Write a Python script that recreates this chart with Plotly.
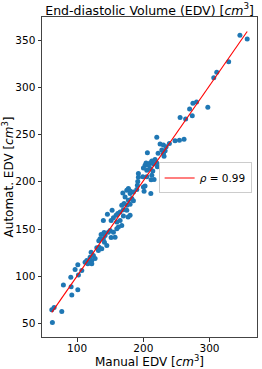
import plotly.graph_objects as go

manual_edv = [346, 357, 329, 311, 306.5, 297.5, 280.5, 275, 270, 274, 264, 255.6,
              220.4, 225.4, 230.4, 248, 254.6, 261.6, 239.4, 234.5, 228, 233, 230.4, 231.4,
              206.2, 217.8, 212.9, 210.3, 204.2, 202.7, 207.7, 215.3, 220.4, 221.3, 210.3, 205.3,
              214.4, 200.2, 192.6, 199.3, 205.3, 212.9, 216.3, 192.6, 211.8, 222.4,
              200.2, 190.2, 211.4, 177.5, 175.1, 180.1, 185.1, 180.1, 169.1, 172.5, 182.6, 177.5,
              171, 175.1, 167.5, 180.1, 170, 191.7, 191.1, 202.7, 201.2, 185.1,
              175.1, 180.1, 170, 165, 160, 167.5, 162.4, 160, 145.8, 139.7, 149.9, 154.9,
              147.3, 142.3, 157.4, 134.8, 139.7, 141.3, 144.9, 133.3, 137.3, 132.2,
              177.1, 165, 161.5, 152.9, 158.9, 154.9, 151.4, 140.8, 136.3, 151.4, 132.8, 129.8,
              121.2, 124.6, 119.7, 114.7, 122.2, 118.1, 112.1, 116.2, 122.2, 101.1, 127.2,
              97, 107.1, 102, 90.5, 79.3, 91, 101.1, 92, 61.8, 65.3, 76.9, 62.7]
auto_edv = [355, 351, 327, 316, 310, 279, 284.5, 283, 277, 270, 266.5, 268,
            247, 240, 239, 243.4, 244, 245, 240.6, 237, 233.5, 232.8, 230, 227,
            230.7, 223.6, 222, 220, 220, 217.6, 217.6, 218.7, 220, 215.8, 214, 212.3,
            211.5, 214.7, 208.8, 205.2, 205.2, 207, 202.4, 204.8, 202.2, 230.3,
            194.5, 191.8, 187.5, 192.8, 191, 190.3, 189.2, 187.5, 188.2, 183.9, 182.2, 180.4,
            176.9, 175.1, 175.1, 176.1, 170.5, 200.3, 196.3, 195.6, 190, 179.9,
            169.8, 164.5, 163.7, 159.1, 157.3, 153.8, 152, 150.3, 165.5, 159.1, 148.5, 146.7,
            146.7, 143.2, 141.4, 139.7, 139.7, 136.1, 132.6, 130.8, 129.1, 127.3,
            162.6, 168, 166.3, 169.8, 164.5, 162, 159.1, 146.4, 144.3, 141.1, 137.6, 130.1,
            125.5, 121.9, 120.1, 116.6, 116.6, 114.8, 114.8, 113.1, 113.1, 112.1, 118.8,
            107.1, 106, 101.4, 98.9, 90.8, 89, 85.8, 80.2, 64.6, 67, 62.8, 51.1]

fit_slope = 1.007
fit_intercept = -0.5
rho_label = "<i>ρ</i> = 0.99"

x_ticks = [100, 200, 300]
y_ticks = [50, 100, 150, 200, 250, 300, 350]

line_x = [min(manual_edv), max(manual_edv)]
line_y = [fit_slope * v + fit_intercept for v in line_x]

fig = go.Figure()
fig.add_trace(go.Scatter(
    x=manual_edv, y=auto_edv, mode="markers",
    marker=dict(color="#1f77b4", size=5, line=dict(width=0)),
    showlegend=False,
))
fig.add_trace(go.Scatter(
    x=line_x, y=line_y, mode="lines",
    line=dict(color="red", width=1.1),
    name=rho_label,
))

font_family = "DejaVu Sans"
fig.update_layout(
    width=262, height=369,
    margin=dict(l=42, r=5, t=17, b=32, autoexpand=False),
    paper_bgcolor="white", plot_bgcolor="white",
    font=dict(family=font_family, color="black", size=10),
    title=dict(text="End-diastolic Volume (EDV) [<i>cm</i><sup>3</sup>]",
               x=0.571, xanchor="center", y=0.972, yanchor="middle",
               font=dict(size=12.5, family=font_family)),
    legend=dict(x=0.975, xanchor="right", y=0.497, yanchor="middle",
                bgcolor="white", bordercolor="#cccccc", borderwidth=1,
                font=dict(size=10.5, family=font_family),
                itemwidth=30, tracegroupgap=0),
    showlegend=True,
)
fig.update_xaxes(
    range=[47.0, 371.8], tickvals=x_ticks, ticks="outside", ticklen=3.5, tickwidth=0.8,
    tickcolor="#333", showgrid=False, zeroline=False, automargin=False,
    showline=True, linecolor="#444", linewidth=1, mirror=True,
    tickfont=dict(size=10.5, family=font_family), ticklabelstandoff=-2,
    title=dict(text="Manual EDV [<i>cm</i><sup>3</sup>]", font=dict(size=12, family=font_family), standoff=0),
)
fig.update_yaxes(
    range=[35.7, 374.4], tickvals=y_ticks, ticks="outside", ticklen=3.5, tickwidth=0.8,
    tickcolor="#333", showgrid=False, zeroline=False, automargin=False,
    showline=True, linecolor="#444", linewidth=1, mirror=True,
    tickfont=dict(size=10.5, family=font_family),
    title=dict(text="Automat. EDV [<i>cm</i><sup>3</sup>]", font=dict(size=12, family=font_family), standoff=0),
)

fig.write_html(
    "out.html",
    config={"displayModeBar": False},
    post_script="document.body.style.margin='0';document.body.style.padding='0';document.body.style.overflow='hidden';",
)
